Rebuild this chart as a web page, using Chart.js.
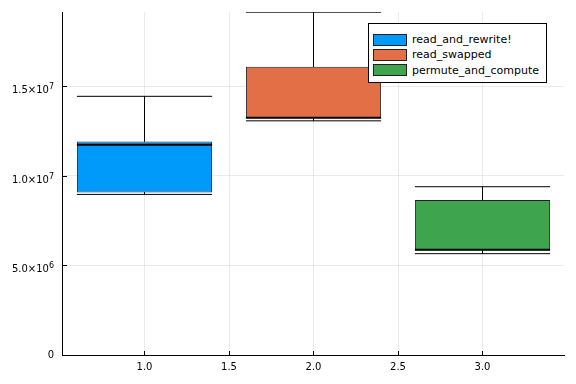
<!DOCTYPE html>
<html>
<head>
<meta charset="utf-8">
<script src="https://cdn.jsdelivr.net/npm/chart.js@4.4.0/dist/chart.umd.min.js"></script>
<style>
  body { margin: 0; background: #fff; }
  .chart__container { position: relative; width: 576px; height: 384px; }
  .legend {
    position: absolute; left: 368px; top: 23px; width: 179px; height: 60px;
    border: 1px solid #000; background: #fff; box-sizing: border-box;
    font: 11px "DejaVu Sans", sans-serif; color: #000; padding-top: 8px;
  }
  .legend__row { display: flex; align-items: center; height: 15.3px; }
  .legend__swatch {
    width: 34px; height: 12px; margin-left: 4px; margin-right: 5px;
    box-sizing: border-box; border: 1px solid #222;
  }
</style>
</head>
<body>
<div class="chart__container">
  <canvas id="chart" width="576" height="384"></canvas>
  <div class="legend" id="legend"></div>
</div>
<script>
const categories = ['read_and_rewrite!', 'read_swapped', 'permute_and_compute'];
const positions = [1, 2, 3];
const lowerWhisker = [8.97e6, 13.08e6, 5.66e6];
const q1 = [9.08e6, 13.22e6, 5.84e6];
const medians = [11.75e6, 13.25e6, 5.88e6];
const q3 = [11.93e6, 16.1e6, 8.66e6];
const upperWhisker = [14.45e6, 19.15e6, 9.4e6];
const colors = ['#009AFA', '#E36F47', '#3EA44E'];
const xTicks = [1.0, 1.5, 2.0, 2.5, 3.0];
const yTicks = [0, 5e6, 1e7, 1.5e7];
// mantissa and exponent of the y tick labels, e.g. 1.5×10^7
const yTickMantissas = ['0', '5.0×10', '1.0×10', '1.5×10'];
const yTickExponents = ['', '6', '7', '7'];

const HALF = 0.4; // half box width in x units
const FONT_FAMILY = '"DejaVu Sans", sans-serif';

const boxSets = categories.map((label, i) => ({
  type: 'bar',
  label,
  data: [{ x: positions[i], y: [q1[i], q3[i]] }],
  backgroundColor: colors[i],
  borderColor: '#222',
  borderWidth: 1,
  borderSkipped: false,
  grouped: false,
  barPercentage: 1.6, // ruler is the 0.5 tick spacing -> 0.8 units wide
  categoryPercentage: 1,
  order: 2,
}));

const whiskerSets = categories.map((label, i) => {
  const p = positions[i];
  return {
    type: 'line',
    label: label + ' whiskers',
    data: [
      { x: p - HALF, y: upperWhisker[i] }, { x: p + HALF, y: upperWhisker[i] }, { x: p, y: null },
      { x: p, y: upperWhisker[i] }, { x: p, y: q3[i] }, { x: p, y: null },
      { x: p, y: q1[i] }, { x: p, y: lowerWhisker[i] }, { x: p, y: null },
      { x: p - HALF, y: lowerWhisker[i] }, { x: p + HALF, y: lowerWhisker[i] },
    ],
    borderColor: '#000',
    borderWidth: 1,
    pointRadius: 0,
    fill: false,
    spanGaps: false,
    tension: 0,
    order: 1,
  };
});

const medianSets = categories.map((label, i) => ({
  type: 'line',
  label: label + ' median',
  data: [{ x: positions[i] - HALF, y: medians[i] }, { x: positions[i] + HALF, y: medians[i] }],
  borderColor: '#000',
  borderWidth: 2,
  pointRadius: 0,
  fill: false,
  order: 0,
}));

// inward tick marks and superscript y labels like the original
const axisDecor = {
  id: 'axisDecor',
  afterDatasetsDraw(chart) {
    const { ctx, chartArea, scales: { x, y } } = chart;
    ctx.save();
    ctx.strokeStyle = '#000';
    ctx.lineWidth = 1;
    ctx.beginPath();
    xTicks.forEach((v) => {
      const px = Math.round(x.getPixelForValue(v) - 0.5) + 0.5;
      ctx.moveTo(px, chartArea.bottom);
      ctx.lineTo(px, chartArea.bottom - 4);
    });
    yTicks.forEach((v) => {
      const py = Math.round(y.getPixelForValue(v)) + 0.5;
      ctx.moveTo(chartArea.left, py);
      ctx.lineTo(chartArea.left + 5, py);
    });
    ctx.stroke();

    ctx.fillStyle = '#000';
    ctx.textBaseline = 'middle';
    ctx.textAlign = 'right';
    const right = chartArea.left - 8;
    yTicks.forEach((v, i) => {
      const py = y.getPixelForValue(v);
      const exp = yTickExponents[i];
      if (!exp) {
        ctx.font = `10px ${FONT_FAMILY}`;
        ctx.fillText(yTickMantissas[i], right, py + 0.5);
        return;
      }
      ctx.font = `8px ${FONT_FAMILY}`;
      const w = ctx.measureText(exp).width;
      ctx.fillText(exp, right, py + 0.5);
      ctx.font = `10px ${FONT_FAMILY}`;
      ctx.fillText(yTickMantissas[i], right - w, py + 4);
    });
    ctx.restore();
  },
};

// eslint-disable-next-line no-new
new Chart(document.getElementById('chart').getContext('2d'), {
  data: { datasets: [...boxSets, ...whiskerSets, ...medianSets] },
  options: {
    responsive: false,
    animation: false,
    layout: { padding: { top: 12, right: 12, left: 0, bottom: 0 } },
    plugins: { legend: { display: false }, tooltip: { enabled: false } },
    scales: {
      x: {
        type: 'linear',
        offset: false,
        min: 0.5118,
        max: 3.4822,
        afterBuildTicks: (s) => { s.ticks = xTicks.map((value) => ({ value })); },
        afterFit: (s) => { s.height = 29; },
        ticks: {
          font: { family: FONT_FAMILY, size: 10 }, color: '#000', padding: 6,
          callback: (v) => v.toFixed(1),
        },
        grid: { color: 'rgba(0,0,0,0.08)', drawTicks: false, offset: false },
        border: { color: '#000', width: 1 },
      },
      y: {
        type: 'linear',
        min: 0,
        max: 19.16e6,
        afterBuildTicks: (s) => { s.ticks = yTicks.map((value) => ({ value })); },
        afterFit: (s) => { s.width = 62; },
        ticks: { display: false },
        grid: { color: 'rgba(0,0,0,0.08)', drawTicks: false },
        border: { color: '#000', width: 1 },
      },
    },
  },
  plugins: [axisDecor],
});

const legend = document.getElementById('legend');
categories.forEach((label, i) => {
  const row = document.createElement('div');
  row.className = 'legend__row';
  row.innerHTML = `<span class="legend__swatch" style="background:${colors[i]}"></span><span>${label}</span>`;
  legend.appendChild(row);
});
</script>
</body>
</html>
